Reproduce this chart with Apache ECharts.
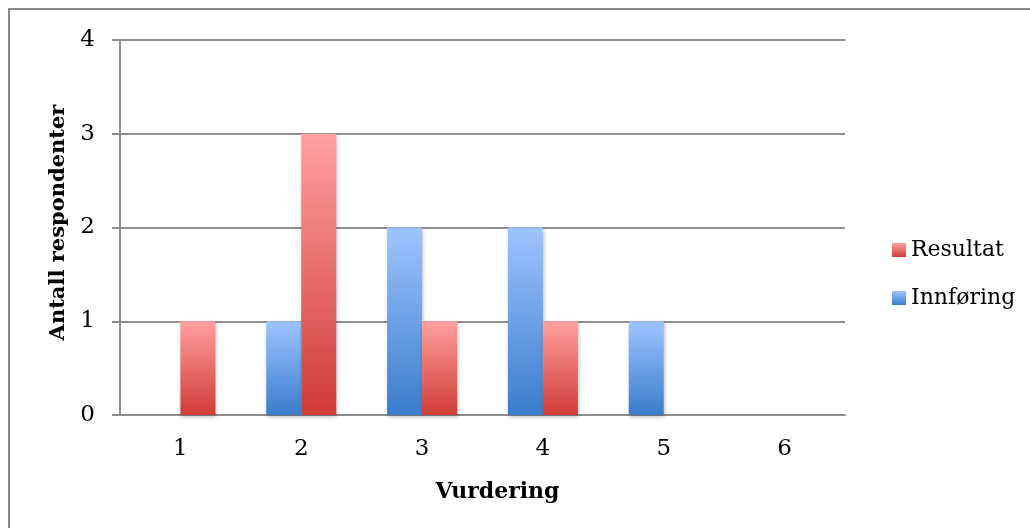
<!DOCTYPE html>
<html>
<head>
<meta charset="utf-8">
<script src="https://cdn.jsdelivr.net/npm/echarts@6/dist/echarts.min.js"></script>
<style>
html,body{margin:0;padding:0;background:#fff;}
#c{width:1030px;height:528px;}
</style>
</head>
<body>
<div id="c"></div>
<script>
const categories = ['1', '2', '3', '4', '5', '6'];
const innforing = [0, 1, 2, 2, 1, 0];
const resultat = [1, 3, 1, 1, 0, 0];
const yTicks = [0, 1, 2, 3, 4];
const seriesNames = ['Innføring', 'Resultat'];
const axisNames = { x: 'Vurdering', y: 'Antall respondenter' };

const FONT = 'DejaVu Serif';
const grad = (top, bottom) => new echarts.graphic.LinearGradient(0, 0, 0, 1, [
  { offset: 0, color: top }, { offset: 1, color: bottom }
]);
const blue = grad('#9ec4ff', '#3a7dcc');
const red = grad('#ffa0a0', '#cf3b36');

const chart = echarts.init(document.getElementById('c'), null, { renderer: 'canvas' });
const barStyle = (c) => ({
  color: c,
  shadowColor: 'rgba(0,0,0,0.25)',
  shadowBlur: 4,
  shadowOffsetX: 1,
  shadowOffsetY: 2
});
chart.setOption({
  animation: false,
  backgroundColor: '#fff',
  graphic: [{
    type: 'rect',
    shape: { x: 9, y: 9, width: 1100, height: 700 },
    style: { fill: 'none', stroke: '#878787', lineWidth: 2 },
    silent: true
  }],
  grid: { left: 120, right: 185, top: 40, bottom: 113 },
  legend: {
    orient: 'vertical',
    left: 887,
    top: 234,
    icon: 'rect',
    itemWidth: 14,
    itemHeight: 14,
    itemGap: 26,
    data: [seriesNames[1], seriesNames[0]],
    textStyle: { fontFamily: FONT, fontSize: 22, color: '#000' }
  },
  xAxis: {
    type: 'category',
    data: categories,
    name: axisNames.x,
    nameLocation: 'middle',
    nameGap: 66,
    nameTextStyle: { fontFamily: FONT, fontSize: 22, fontWeight: 'bold', color: '#000', padding: [0, 0, 0, 30] },
    axisLine: { show: true, lineStyle: { color: '#8e8e8e', width: 2 } },
    axisTick: { show: false },
    axisLabel: { fontFamily: FONT, fontSize: 23, color: '#000', margin: 23 }
  },
  yAxis: {
    type: 'value',
    min: 0,
    max: 4,
    interval: 1,
    name: axisNames.y,
    nameLocation: 'middle',
    nameRotate: 90,
    nameGap: 44,
    nameTextStyle: { fontFamily: FONT, fontSize: 21, fontWeight: 'bold', color: '#000', padding: [0, 0, 0, 10] },
    axisLine: { show: true, lineStyle: { color: '#8e8e8e', width: 2 } },
    axisTick: { show: true, length: 8, lineStyle: { color: '#8e8e8e', width: 2 } },
    axisLabel: {
      fontFamily: FONT, fontSize: 23, color: '#000', margin: 25,
      formatter: (v) => yTicks.includes(v) ? String(v) : ''
    },
    splitLine: { show: true, lineStyle: { color: '#8e8e8e', width: 2 } }
  },
  series: [
    {
      name: seriesNames[0], type: 'bar', data: innforing,
      barWidth: 35, barGap: '0%',
      itemStyle: barStyle(blue)
    },
    {
      name: seriesNames[1], type: 'bar', data: resultat,
      barWidth: 35, barGap: '0%',
      itemStyle: barStyle(red)
    }
  ]
});
</script>
</body>
</html>
